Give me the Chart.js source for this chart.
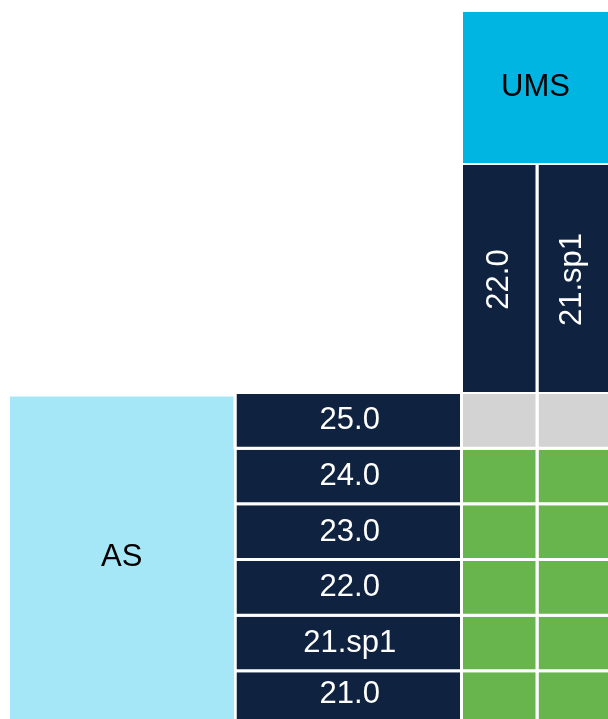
<!DOCTYPE html>
<html lang="en">
<head>
<meta charset="UTF-8">
<title>UMS / AS compatibility</title>
<script src="https://cdn.jsdelivr.net/npm/chart.js@4"></script>
<style>
  html, body { margin: 0; padding: 0; background: #fff; overflow: hidden; }
  canvas { display: block; }
</style>
</head>
<body>
<!-- the matrix runs a few pixels past the window on the right and bottom, as in the source -->
<canvas id="matrix" width="614" height="728"></canvas>
<script>
const umsTitle = 'UMS';
const asTitle = 'AS';
const umsVersions = ['22.0', '21.sp1'];
const asVersions = ['25.0', '24.0', '23.0', '22.0', '21.sp1', '21.0'];
// status per AS version (same order as asVersions), one list per UMS version
const ums22Support = ['untested', 'yes', 'yes', 'yes', 'yes', 'yes'];
const ums21sp1Support = ['untested', 'yes', 'yes', 'yes', 'yes', 'yes'];
const supportByUms = [ums22Support, ums21sp1Support];

const colors = {
    ums: '#00b5e2',
    as: '#a6e7f7',
    navy: '#0f2341',
    yes: '#67b54c',
    untested: '#d3d3d3'
};
const FONT = '31px "Liberation Sans", Arial, sans-serif';

// column spans on the hidden x axis (units); AS stops a hair short to leave the white gap
const AS_COL = [0, 2.96];
const LABEL_COL = [3, 6];
const UMS_START = 6;
const lastUms = umsVersions.length - 1;

const datasets = [
    {
        label: umsTitle,
        yAxisID: 'yUms',
        data: [{ x: [UMS_START, UMS_START + umsVersions.length], y: umsTitle }],
        backgroundColor: colors.ums,
        borderWidth: { top: 0, left: 0, right: 0, bottom: 2 },
        cellText: [umsTitle],
        textColor: '#000'
    },
    {
        label: 'UMS versions',
        yAxisID: 'yVer',
        data: umsVersions.map((v, j) => ({ x: [UMS_START + j, UMS_START + j + 1], y: 'versions' })),
        backgroundColor: colors.navy,
        borderWidth: (c) => ({ top: 0, left: 0, bottom: 2, right: c.dataIndex < lastUms ? 3 : 0 }),
        cellText: umsVersions,
        textColor: '#fff',
        rotate: true
    },
    {
        label: asTitle,
        yAxisID: 'yAs',
        data: asVersions.map(v => ({ x: AS_COL, y: v })),
        backgroundColor: colors.as,
        // only the first row gets a (top) border so the block has no seams
        borderWidth: (c) => (c.dataIndex === 0 ? { top: 3, left: 0, bottom: 0, right: 0 } : 0),
        inflateAmount: 0.6,
        blockText: asTitle,
        textColor: '#000'
    },
    {
        label: 'AS versions',
        yAxisID: 'yAs',
        data: asVersions.map(v => ({ x: LABEL_COL, y: v })),
        backgroundColor: colors.navy,
        borderWidth: { top: 0, left: 0, bottom: 3, right: 3 },
        cellText: asVersions,
        textColor: '#fff'
    },
    ...umsVersions.map((u, j) => ({
        label: 'UMS ' + u,
        yAxisID: 'yAs',
        data: asVersions.map(v => ({ x: [UMS_START + j, UMS_START + j + 1], y: v })),
        backgroundColor: supportByUms[j].map(s => colors[s]),
        borderWidth: { top: 0, left: 0, bottom: 3, right: j < lastUms ? 3 : 0 }
    }))
];

// the part of a bar that is inside the window
function visibleBox(bar) {
    const p = bar.getProps(['x', 'base', 'y', 'height'], true);
    return {
        left: Math.max(Math.min(p.x, p.base), 0),
        right: Math.min(Math.max(p.x, p.base), window.innerWidth),
        top: Math.max(p.y - p.height / 2, 0),
        bottom: Math.min(p.y + p.height / 2, window.innerHeight)
    };
}

function drawLabel(ctx, text, box, rotate) {
    const cx = (box.left + box.right) / 2;
    const cy = (box.top + box.bottom) / 2;
    ctx.save();
    ctx.translate(cx, cy);
    if (rotate) ctx.rotate(-Math.PI / 2);
    ctx.fillText(text, 0, -1);
    ctx.restore();
}

const cellText = {
    id: 'cellText',
    afterDatasetsDraw(chart) {
        const { ctx } = chart;
        ctx.save();
        ctx.font = FONT;
        ctx.textAlign = 'center';
        ctx.textBaseline = 'middle';
        chart.data.datasets.forEach((ds, di) => {
            const bars = chart.getDatasetMeta(di).data;
            ctx.fillStyle = ds.textColor || '#fff';
            if (ds.blockText) {
                const boxes = bars.map(visibleBox);
                const block = {
                    left: Math.min(...boxes.map(b => b.left)),
                    right: Math.max(...boxes.map(b => b.right)),
                    top: Math.min(...boxes.map(b => b.top)) + 3,
                    bottom: Math.max(...boxes.map(b => b.bottom))
                };
                drawLabel(ctx, ds.blockText, block, false);
            }
            if (ds.cellText) {
                bars.forEach((b, i) => drawLabel(ctx, ds.cellText[i], visibleBox(b), ds.rotate));
            }
        });
        ctx.restore();
    }
};

new Chart(document.getElementById('matrix'), {
    type: 'bar',
    data: { datasets },
    options: {
        indexAxis: 'y',
        responsive: false,
        animation: false,
        layout: { padding: { left: 10, top: 12, right: 0, bottom: 0 } },
        datasets: {
            bar: {
                grouped: false,
                barPercentage: 1,
                categoryPercentage: 1,
                borderColor: '#fff',
                borderSkipped: false,
                inflateAmount: 0
            }
        },
        scales: {
            x: { type: 'linear', min: 0, max: 8, display: false },
            yUms: { type: 'category', labels: [umsTitle], position: 'left', stack: 'rows', stackWeight: 153, weight: 3, offset: true, display: false },
            yVer: { type: 'category', labels: ['versions'], position: 'left', stack: 'rows', stackWeight: 229, weight: 2, offset: true, display: false },
            yAs: { type: 'category', labels: asVersions, position: 'left', stack: 'rows', stackWeight: 334, weight: 1, offset: true, display: false }
        },
        plugins: {
            legend: { display: false },
            tooltip: { enabled: false }
        }
    },
    plugins: [cellText]
});
</script>
</body>
</html>
